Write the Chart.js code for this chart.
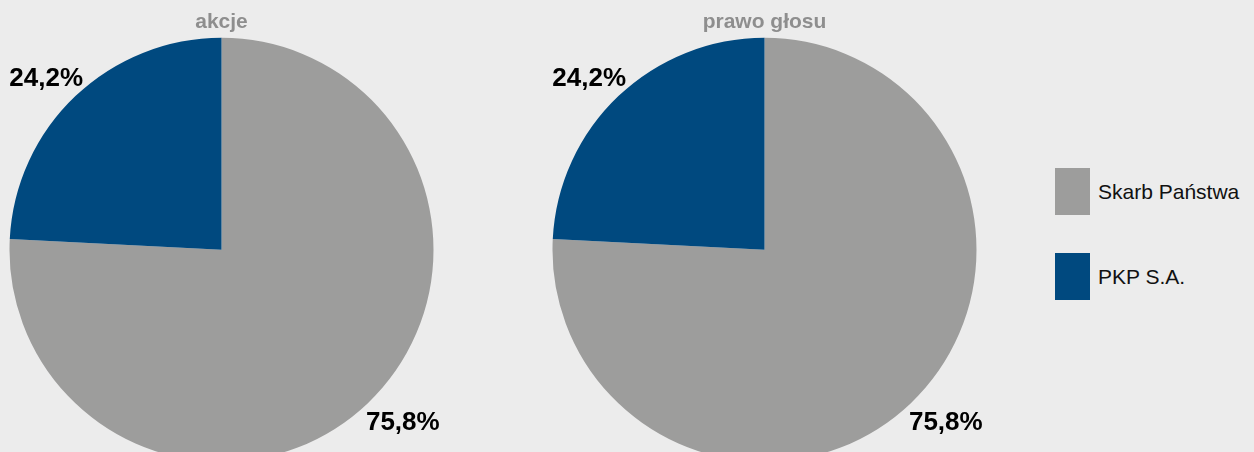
<!DOCTYPE html>
<html lang="pl">
<head>
  <meta charset="UTF-8" />
  <title>Struktura akcjonariatu</title>
  <script src="https://cdn.jsdelivr.net/npm/chart.js"></script>
  <style>
    html, body { margin: 0; padding: 0; }
    body { width: 1254px; height: 452px; overflow: hidden; background: #ececec; position: relative;
           font-family: "Liberation Sans", Arial, sans-serif; }
    .pie { position: absolute; top: 0; width: 443px; height: 462px; }
    #legend { position: absolute; left: 1055px; top: 168px; }
    .item { display: flex; align-items: center; height: 47px; margin-bottom: 38px; }
    .box { width: 35px; height: 47px; margin-right: 8px; }
    .item span { font-size: 21px; color: #111; }
  </style>
</head>
<body>
  <div class="pie" style="left:0"><canvas id="akcje"></canvas></div>
  <div class="pie" style="left:543px"><canvas id="glosy"></canvas></div>
  <div id="legend"></div>

  <script>
    const owners = ['Skarb Państwa', 'PKP S.A.'];
    const colors = ['#9d9d9c', '#00497f'];
    const sharesPct = [75.8, 24.2];
    const votesPct = [75.8, 24.2];
    const titles = ['akcje', 'prawo głosu'];

    const fmt = v => v.toFixed(1).replace('.', ',') + '%';

    // tytuł nad kołem i etykiety procentowe poza krawędzią
    const pieText = {
      id: 'pieText',
      afterDraw(chart, args, opts) {
        const ctx = chart.ctx;
        const meta = chart.getDatasetMeta(0);
        const arc0 = meta.data[0];
        ctx.save();
        ctx.textAlign = 'center';
        ctx.textBaseline = 'middle';
        ctx.fillStyle = '#8e8e8e';
        ctx.font = 'bold 21px "Liberation Sans", Arial, sans-serif';
        ctx.fillText(opts.title, arc0.x, 22);

        ctx.fillStyle = '#000';
        ctx.font = 'bold 26px "Liberation Sans", Arial, sans-serif';
        meta.data.forEach((arc, i) => {
          const mid = (arc.startAngle + arc.endAngle) / 2;
          const d = arc.outerRadius + 38;
          const x = arc.x + Math.cos(mid) * d + (i === 0 ? 9 : -3);
          const y = arc.y + Math.sin(mid) * d + (i === 0 ? -8 : 10);
          ctx.fillText(fmt(chart.data.datasets[0].data[i]), x, y);
        });
        ctx.restore();
      }
    };

    function makePie(id, values, title) {
      new Chart(document.getElementById(id), {
        type: 'pie',
        data: {
          labels: owners,
          datasets: [{ data: values, backgroundColor: colors, borderWidth: 0 }]
        },
        options: {
          responsive: true,
          maintainAspectRatio: false,
          animation: false,
          layout: { padding: { top: 37.5, left: 9.5, right: 9.5, bottom: 0 } },
          plugins: {
            legend: { display: false },
            tooltip: { enabled: false },
            pieText: { title: title }
          }
        },
        plugins: [pieText]
      });
    }

    makePie('akcje', sharesPct, titles[0]);
    makePie('glosy', votesPct, titles[1]);

    const legend = document.getElementById('legend');
    owners.forEach((name, i) => {
      const item = document.createElement('div');
      item.className = 'item';
      item.innerHTML = '<div class="box" style="background:' + colors[i] + '"></div><span>' + name + '</span>';
      legend.appendChild(item);
    });
  </script>
</body>
</html>
